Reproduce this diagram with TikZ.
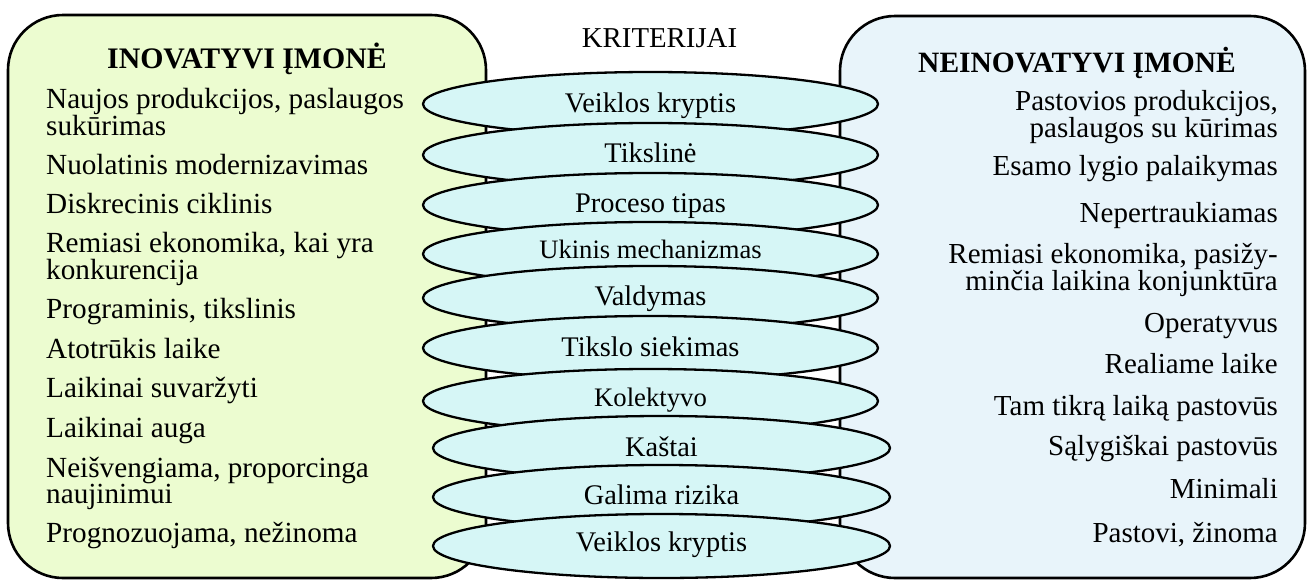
\documentclass[tikz,border=0pt]{standalone}
\usepackage{fontspec}
\setmainfont{Liberation Serif}
\usetikzlibrary{shapes.geometric}

\definecolor{innofill}{RGB}{236,252,208}
\definecolor{neinnofill}{RGB}{232,244,250}
\definecolor{critfill}{RGB}{214,246,246}

\tikzset{
  firmbox/.style={draw, line width=2.6pt, rounded corners=55pt},
  crit/.style={ellipse, draw, line width=2.3pt, fill=critfill,
    minimum width=455pt, minimum height=64pt, inner sep=0pt,
    text height=20pt, text depth=4pt,
    font=\fontsize{28.4}{30}\selectfont},
  heading/.style={anchor=base west, inner sep=0pt,
    font=\fontsize{29.8}{32}\selectfont\bfseries},
  litem/.style={anchor=base west, inner sep=0pt,
    font=\fontsize{29.2}{26.5}\selectfont},
  ritem/.style={anchor=base east, inner sep=0pt,
    font=\fontsize{29}{27}\selectfont},
}

\newcommand{\leftlines}[1]{\parbox[t]{420pt}{\raggedright #1}}
\newcommand{\rightlines}[1]{\parbox[t]{420pt}{\raggedleft #1}}

\begin{document}
\begin{tikzpicture}[x=1pt, y=-1pt]
  \useasboundingbox (0,0) rectangle (1307,581);

  % the two company boxes
  \draw[firmbox, fill=innofill] (8,15) rectangle (486,578);
  \draw[firmbox, fill=neinnofill] (840,16) rectangle (1305,578);

  % column title
  \node[anchor=base, inner sep=0pt, font=\fontsize{28.8}{32}\selectfont]
    (kriterijai) at (659.5,47) {KRITERIJAI};

  % innovative company
  \node[heading] (inohead) at (107,68) {INOVATYVI ĮMONĖ};
  \node[litem] (l1)  at (46,108) {\leftlines{Naujos produkcijos, paslaugos\\sukūrimas}};
  \node[litem] (l2)  at (46,174) {Nuolatinis modernizavimas};
  \node[litem] (l3)  at (46,213) {Diskrecinis ciklinis};
  \node[litem] (l4)  at (46,252) {\leftlines{Remiasi ekonomika, kai yra\\konkurencija}};
  \node[litem] (l5)  at (46,318) {Programinis, tikslinis};
  \node[litem] (l6)  at (46,358) {Atotrūkis laike};
  \node[litem] (l7)  at (46,397) {Laikinai suvaržyti};
  \node[litem] (l8)  at (46,437) {Laikinai auga};
  \node[litem] (l9)  at (46,477) {\leftlines{Neišvengiama, proporcinga\\naujinimui}};
  \node[litem] (l10) at (46,542) {Prognozuojama, nežinoma};

  % non-innovative company
  \node[heading, font=\fontsize{29.5}{32}\selectfont\bfseries] (neinohead) at (918,72) {NEINOVATYVI ĮMONĖ};
  \node[ritem] (r1)  at (1278,110) {\rightlines{Pastovios produkcijos,\\paslaugos su kūrimas}};
  \node[ritem] (r2)  at (1278,175) {Esamo lygio palaikymas};
  \node[ritem] (r3)  at (1278,222) {Nepertraukiamas};
  \node[ritem] (r4)  at (1278,263) {\rightlines{Remiasi ekonomika, pasižy-\\minčia laikina konjunktūra}};
  \node[ritem] (r5)  at (1278,332) {Operatyvus};
  \node[ritem] (r6)  at (1278,373) {Realiame laike};
  \node[ritem] (r7)  at (1278,415) {Tam tikrą laiką pastovūs};
  \node[ritem] (r8)  at (1278,455) {Sąlygiškai pastovūs};
  \node[ritem] (r9)  at (1278,498) {Minimali};
  \node[ritem] (r10) at (1278,542) {Pastovi, žinoma};

  % criteria, stacked so each lower ellipse overlaps the one above
  \node[crit] (c1)  at (650.5,104) {Veiklos kryptis};
  \node[crit, text depth=6pt] (c2)  at (650.5,155) {Tikslinė};
  \node[crit, text depth=6pt] (c3)  at (650.5,205) {Proceso tipas};
  \node[crit, text depth=12pt, font=\fontsize{26.6}{30}\selectfont] (c4) at (650.5,254) {Ukinis mechanizmas};
  \node[crit, text depth=6pt] (c5)  at (650.5,298) {Valdymas};
  \node[crit] (c6)  at (650.5,348) {Tikslo siekimas};
  \node[crit, text depth=10pt, font=\fontsize{26.7}{30}\selectfont] (c7) at (650.5,401) {Kolektyvo};
  \node[crit, minimum width=457pt] (c8)  at (661.5,448) {Kaštai};
  \node[crit, text depth=6pt, minimum width=457pt] (c9)  at (661.5,497) {Galima rizika};
  \node[crit, text depth=10pt, minimum width=457pt] (c10) at (661.5,546) {Veiklos kryptis};
\end{tikzpicture}
\end{document}
